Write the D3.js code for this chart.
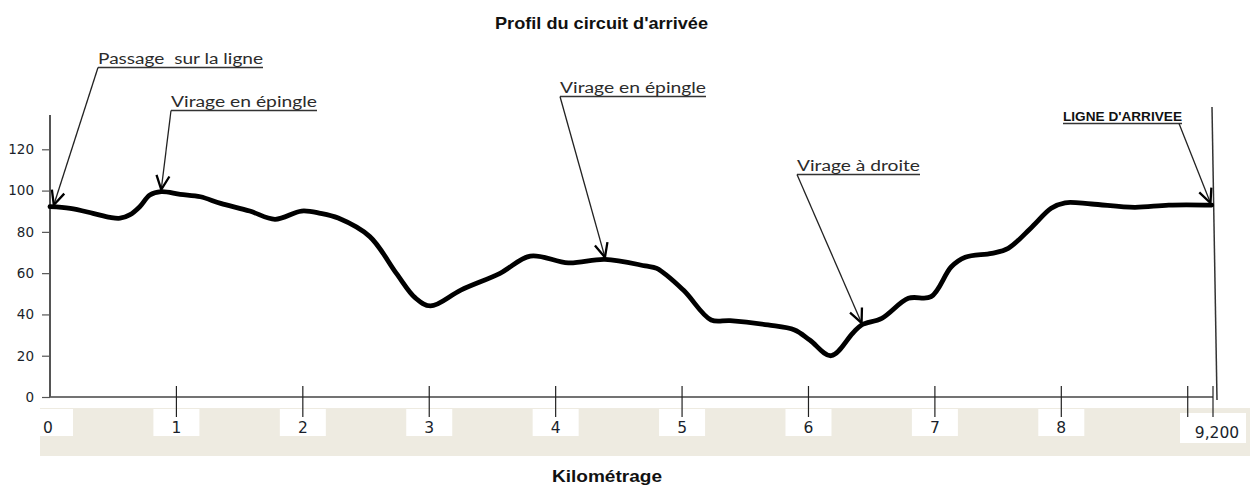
<!DOCTYPE html>
<html lang="fr">
<head>
<meta charset="utf-8">
<title>Profil du circuit d'arrivée</title>
<script src="https://cdn.jsdelivr.net/npm/d3@7"></script>
<style>
    body { margin: 0; background: #fff; }
    #chart-area { width: 1250px; height: 488px; }
</style>
</head>
<body>
<div id="chart-area"></div>
<script>
// profile: distance (km) and elevation
let profileKm = [0, 0.16, 0.34, 0.475, 0.555, 0.63, 0.71, 0.79, 0.88, 1.03, 1.19, 1.35, 1.58, 1.78, 1.99, 2.14,
    2.28, 2.53, 2.74, 2.89, 3.01, 3.25, 3.56, 3.80, 4.1, 4.39, 4.71, 4.80, 5.01, 5.23, 5.38, 5.68, 5.89, 6.01,
    6.18, 6.35, 6.42, 6.58, 6.79, 6.97, 7.13, 7.24, 7.45, 7.58, 7.77, 7.92, 8.03, 8.24, 8.58, 8.85, 9.19];
let profileElevation = [92.2, 91.4, 89, 87, 86.6, 88.2, 92.2, 97.9, 99.5, 98.2, 97, 93.8, 90.1, 86.1, 90.1, 89,
    86.7, 77.7, 59.9, 48, 44.1, 51.8, 59.9, 68.3, 65, 66.7, 63.5, 62.3, 51.8, 37.3, 37, 34.9, 32.5, 27.6,
    20, 30.9, 34.9, 38.1, 47.8, 48.6, 63.1, 67.7, 69.6, 72, 82.5, 91.4, 94.1, 93.5, 91.9, 93, 93];

let yTicks = [0, 20, 40, 60, 80, 100, 120];
let xTickKm = [1, 2, 3, 4, 5, 6, 7, 8, 9, 9.2];
let xLabelKm = [0, 1, 2, 3, 4, 5, 6, 7, 8, 9.2];
let xLabels = ["0", "1", "2", "3", "4", "5", "6", "7", "8", "9,200"];
let finishKm = 9.2;

let annotationLabels = ["Passage  sur la ligne", "Virage en épingle", "Virage en épingle", "Virage à droite", "LIGNE D'ARRIVEE"];
let annotationKm = [0.03, 0.88, 4.39, 6.42, 9.18];

// where each label sits (x, baseline, text width, leader start side)
let annotationLayout = [
    { x: 98, y: 64, w: 165, from: "left", bold: false },
    { x: 171, y: 107, w: 146, from: "left", bold: false },
    { x: 560, y: 93, w: 146, from: "left", bold: false },
    { x: 797, y: 171, w: 123, from: "left", bold: false },
    { x: 1063, y: 121, w: 119, from: "right", bold: true }
];

class ProfileVis {
    constructor(_parentElement) {
        this.parentElement = _parentElement;
        this.initVis();
    }

    initVis() {
        let vis = this;

        vis.width = 1250;
        vis.height = 488;

        vis.svg = d3.select("#" + vis.parentElement).append("svg")
            .attr("width", vis.width)
            .attr("height", vis.height);

        vis.x = d3.scaleLinear().domain([0, 9.2]).range([50, 1213]);
        vis.y = d3.scaleLinear().domain([0, 120]).range([397, 149.3]);

        // arrow head for the leaders
        vis.svg.append("defs").append("marker")
            .attr("id", "arrow")
            .attr("markerUnits", "userSpaceOnUse")
            .attr("viewBox", "0 0 16 16")
            .attr("refX", 15)
            .attr("refY", 8)
            .attr("markerWidth", 16)
            .attr("markerHeight", 16)
            .attr("orient", "auto")
            .append("path")
            .attr("d", "M1,1.5 L15,8 L1,14.5")
            .attr("fill", "none")
            .attr("stroke", "#000")
            .attr("stroke-width", 2.3)
            .attr("stroke-linejoin", "miter");

        vis.wrangleData();
    }

    wrangleData() {
        let vis = this;

        vis.displayData = profileKm.map((k, i) => ({ km: k, elev: profileElevation[i] }));

        let bis = d3.bisector(d => d.km).left;
        vis.elevAt = function (k) {
            let i = Math.max(1, Math.min(vis.displayData.length - 1, bis(vis.displayData, k)));
            let a = vis.displayData[i - 1], b = vis.displayData[i];
            return a.elev + (b.elev - a.elev) * (k - a.km) / (b.km - a.km);
        };

        vis.updateVis();
    }

    updateVis() {
        let vis = this;

        // title
        vis.svg.append("text")
            .attr("x", 495).attr("y", 29)
            .attr("textLength", 213).attr("lengthAdjust", "spacingAndGlyphs")
            .style("font-family", "Liberation Sans, Arial, sans-serif")
            .style("font-weight", "bold").style("font-size", "17px")
            .attr("fill", "#111")
            .text("Profil du circuit d'arrivée");

        // band under the axis
        vis.svg.append("rect")
            .attr("x", 40).attr("y", 408)
            .attr("width", 1210).attr("height", 48)
            .attr("fill", "#EEEBE1");

        // label boxes + labels
        let last = xLabels.length - 1;
        let lab = vis.svg.append("g").selectAll("g").data(xLabels).enter().append("g");
        lab.append("rect")
            .attr("x", (d, i) => i === 0 ? 39 : (i === last ? vis.x(xLabelKm[i]) - 33 : vis.x(xLabelKm[i]) - 23))
            .attr("y", (d, i) => i === last ? 413 : 409)
            .attr("width", (d, i) => i === 0 ? 34 : (i === last ? 66 : 46))
            .attr("height", (d, i) => i === last ? 30 : 27)
            .attr("fill", "#fff");
        lab.append("text")
            .attr("x", (d, i) => i === 0 ? vis.x(xLabelKm[i]) - 2 : vis.x(xLabelKm[i]) + (i === last ? 4 : 0))
            .attr("y", (d, i) => i === last ? 438 : 433)
            .attr("text-anchor", "middle")
            .style("font-family", "DejaVu Sans, Verdana, sans-serif")
            .style("font-size", "15.5px")
            .attr("fill", "#1a1f2b")
            .text(d => d);

        // x axis line and ticks
        vis.svg.append("line")
            .attr("x1", vis.x(0)).attr("x2", vis.x(finishKm))
            .attr("y1", vis.y(0)).attr("y2", vis.y(0))
            .attr("stroke", "#444").attr("stroke-width", 1.6);
        vis.svg.append("g").selectAll("line").data(xTickKm).enter().append("line")
            .attr("x1", d => vis.x(d)).attr("x2", d => vis.x(d))
            .attr("y1", 386).attr("y2", 417)
            .attr("stroke", "#222").attr("stroke-width", 1.2);

        // y axis
        let yAxis = d3.axisLeft(vis.y).tickValues(yTicks).tickSize(8).tickPadding(8);
        let yg = vis.svg.append("g")
            .attr("transform", "translate(" + vis.x(0) + ",0)")
            .call(yAxis);
        yg.select(".domain").remove();
        yg.selectAll(".tick line").attr("stroke", "#555").attr("stroke-width", 1.2);
        yg.selectAll(".tick text")
            .style("font-family", "DejaVu Sans, Verdana, sans-serif")
            .style("font-size", "13.5px")
            .attr("fill", "#1a1f2b");
        vis.svg.append("line")
            .attr("x1", vis.x(0)).attr("x2", vis.x(0))
            .attr("y1", 115).attr("y2", vis.y(0))
            .attr("stroke", "#555").attr("stroke-width", 2);

        // finish line
        vis.svg.append("line")
            .attr("x1", vis.x(finishKm) - 1).attr("x2", vis.x(finishKm) + 4)
            .attr("y1", 107).attr("y2", vis.y(0) + 3)
            .attr("stroke", "#333").attr("stroke-width", 1.5);

        // profile
        let line = d3.line()
            .x(d => vis.x(d.km))
            .y(d => vis.y(d.elev))
            .curve(d3.curveCatmullRom.alpha(0.5));
        vis.svg.append("path")
            .datum(vis.displayData)
            .attr("d", line)
            .attr("fill", "none")
            .attr("stroke", "#000")
            .attr("stroke-width", 4.8)
            .attr("stroke-linecap", "round")
            .attr("stroke-linejoin", "round");

        // annotations
        annotationLabels.forEach((label, i) => {
            let l = annotationLayout[i];
            vis.svg.append("text")
                .attr("x", l.x).attr("y", l.y)
                .attr("textLength", l.w).attr("lengthAdjust", "spacingAndGlyphs")
                .attr("fill", l.bold ? "#111" : "#2b2b2b")
                .style("white-space", "pre")
                .style("font-family", l.bold ? "Liberation Sans, Arial, sans-serif" : "Lato, sans-serif")
                .style("font-weight", l.bold ? "bold" : "normal")
                .style("font-size", l.bold ? "12.5px" : "15.5px")
                .text(label);
            let uy = l.y + (l.bold ? 2.5 : 3.5);
            vis.svg.append("line")
                .attr("x1", l.x).attr("x2", l.x + l.w)
                .attr("y1", uy).attr("y2", uy)
                .attr("stroke", "#333").attr("stroke-width", l.bold ? 1.6 : 1.3);
            let sx = l.from === "left" ? l.x : l.x + l.w - 3;
            let k = annotationKm[i];
            vis.svg.append("line")
                .attr("x1", sx).attr("y1", uy)
                .attr("x2", vis.x(k)).attr("y2", vis.y(vis.elevAt(k)) - 2)
                .attr("stroke", "#222").attr("stroke-width", 1.3)
                .attr("marker-end", "url(#arrow)");
        });

        // axis title
        vis.svg.append("text")
            .attr("x", 552).attr("y", 482)
            .attr("textLength", 110).attr("lengthAdjust", "spacingAndGlyphs")
            .style("font-family", "Liberation Sans, Arial, sans-serif")
            .style("font-weight", "bold").style("font-size", "17px")
            .attr("fill", "#111")
            .text("Kilométrage");
    }
}

new ProfileVis("chart-area");
</script>
</body>
</html>
